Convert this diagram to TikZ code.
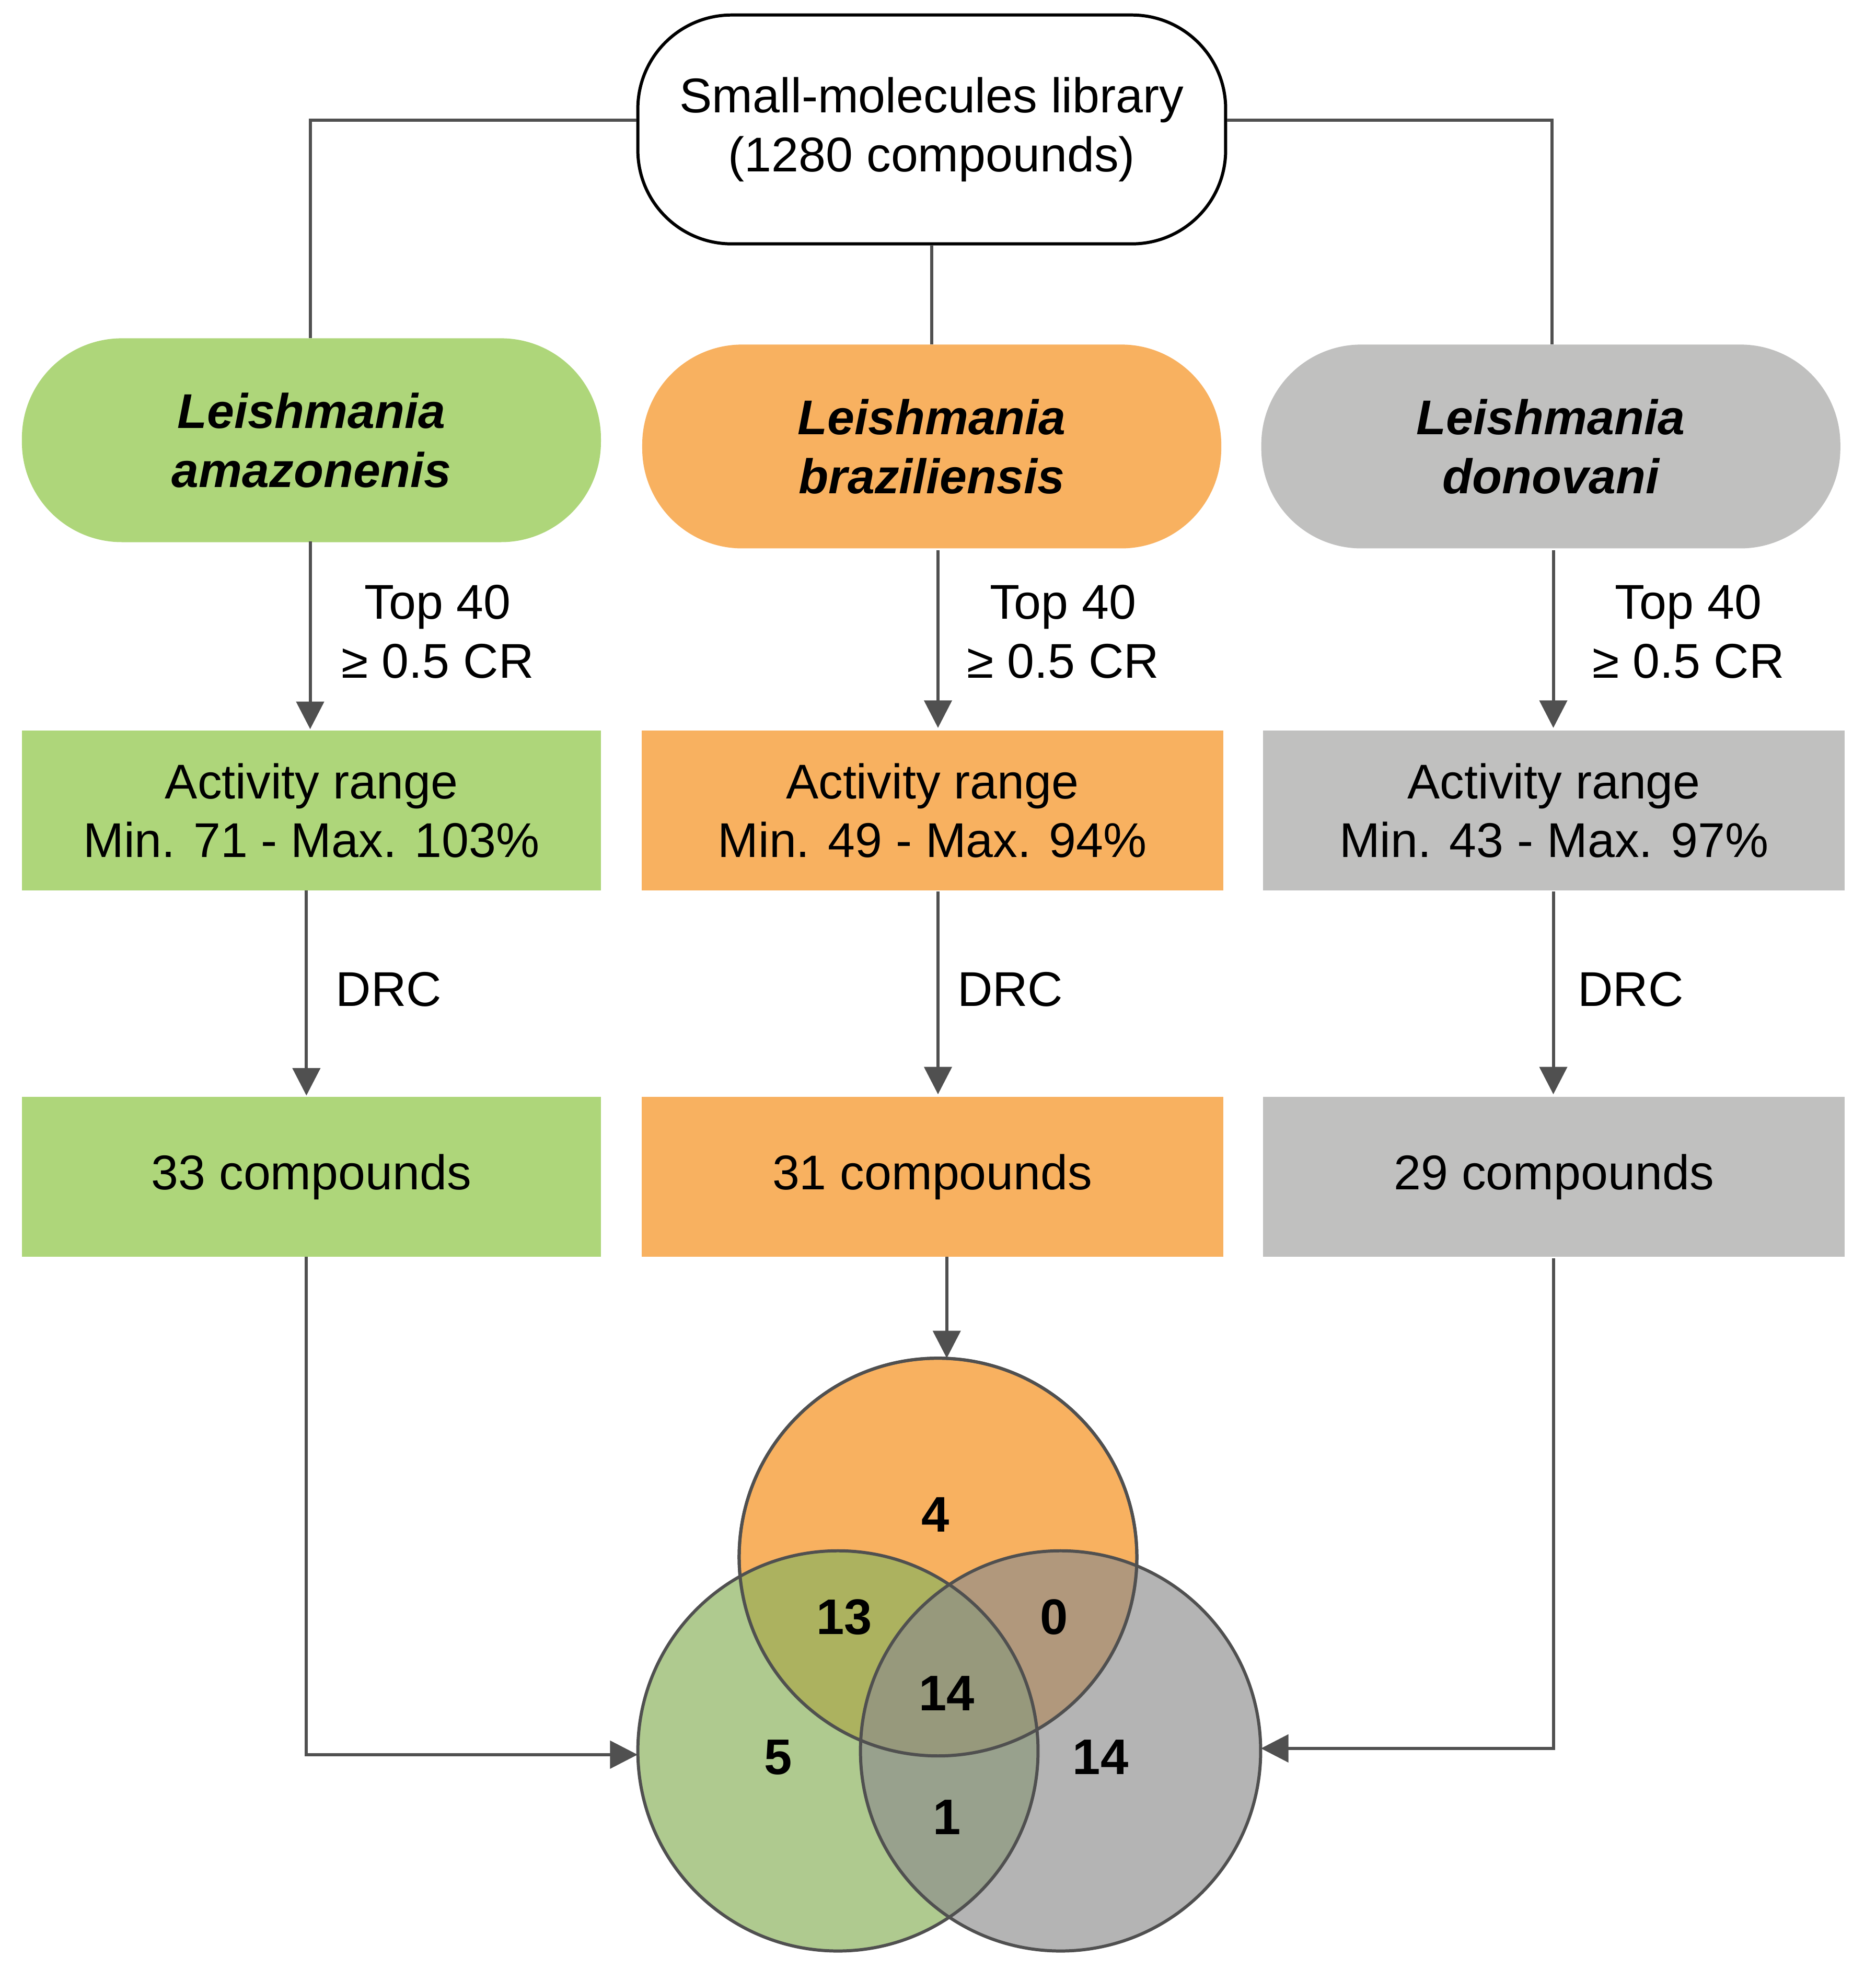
\documentclass[tikz,border=0pt]{standalone}
\usepackage{fontspec}
\setmainfont{Liberation Sans}
\usetikzlibrary{arrows.meta}
\definecolor{cg}{HTML}{AED67A}
\definecolor{co}{HTML}{F8B160}
\definecolor{cy}{HTML}{C0C0BF}
\definecolor{vg}{HTML}{8DB35F}
\definecolor{vy}{HTML}{8C8C8C}
\definecolor{ln}{HTML}{505050}
\begin{document}
\begin{tikzpicture}[x=1pt,y=-1pt,
  txt/.style={font=\fontsize{39}{47}\selectfont,align=center},
  box/.style={txt,draw=none,minimum width=463,minimum height=128,inner sep=0},
  pill/.style={box,rounded corners=80,minimum height=163,font=\fontsize{39}{47}\selectfont\bfseries\itshape},
  con/.style={draw=ln,line width=2.5},
  arr/.style={con,-{Triangle[width=22,length=22]}},
  num/.style={font=\fontsize{40}{42}\selectfont\bfseries}]
\useasboundingbox (0,0) rectangle (1500,1584);
\node[txt,draw=black,line width=2.5,rounded corners=75,minimum width=470,minimum height=183] (top) at (745,103.5) {Small-molecules library\\(1280 compounds)};
\node[pill,fill=cg] (pa) at (249,352) {Leishmania\\amazonenis};
\node[pill,fill=co] (pb) at (745,357) {Leishmania\\braziliensis};
\node[pill,fill=cy] (pc) at (1240,357) {Leishmania\\donovani};
\node[box,fill=cg] (aa) at (249,648) {Activity range\\Min. 71 - Max. 103\%};
\node[box,fill=co,minimum width=465] (ab) at (745.5,648) {Activity range\\Min. 49 - Max. 94\%};
\node[box,fill=cy,minimum width=465] (ac) at (1242.5,648) {Activity range\\Min. 43 - Max. 97\%};
\node[box,fill=cg] (ca) at (249,941) {33 compounds};
\node[box,fill=co,minimum width=465] (cb) at (745.5,941) {31 compounds};
\node[box,fill=cy,minimum width=465] (cc) at (1242.5,941) {29 compounds};
% circles
\node[circle,draw=ln,line width=2.5,fill=co,minimum size=318,inner sep=0] (vo) at (750,1245) {};
\node[circle,fill=vg,fill opacity=0.7,minimum size=320,inner sep=0] (vg) at (670,1400) {};
\node[circle,fill=vy,fill opacity=0.65,minimum size=320,inner sep=0] (vy) at (848,1400) {};
\draw[ln,line width=2.5] (750,1245) circle (159) (670,1400) circle (160) (848,1400) circle (160);
\node[num] at (748,1211) {4};
\node[num] at (675,1293) {13};
\node[num] at (843,1293) {0};
\node[num] at (757,1354) {14};
\node[num] at (622,1405) {5};
\node[num] at (880,1405) {14};
\node[num] at (757,1453) {1};
% connectors
\coordinate (l1) at (248,96); \coordinate (r1) at (1241,96);
\draw[con] (top.west |- l1) -- (l1) -- (l1 |- pa.north);
\draw[con] (top.east |- r1) -- (r1) -- (r1 |- pc.north);
\draw[con] (top.south) -- (pb.north);
\draw[arr] (248,433) -- (248,583);
\draw[arr] (750,440) -- (750,582);
\draw[arr] (1242,440) -- (1242,582);
\foreach \x in {350,850,1350}{
  \node[txt] at (\x,505) {Top 40\\≥ 0.5 CR};}
\draw[arr] (245,712) -- (245,876);
\draw[arr] (750,713) -- (750,875);
\draw[arr] (1242,713) -- (1242,875);
\node[txt,anchor=west] at (265,791) {DRC};
\node[txt,anchor=west] at (762,791) {DRC};
\node[txt,anchor=west] at (1258,791) {DRC};
\coordinate (ot) at (757,1086);
\draw[arr] (757,1005) -- (ot);
\coordinate (gl) at (245,1403); \coordinate (gr) at (1242,1398);
\draw[arr] (245,1005) -- (gl) -- (vg.west |- gl);
\draw[arr] (1242,1006) -- (gr) -- (vy.east |- gr);
\end{tikzpicture}
\end{document}
